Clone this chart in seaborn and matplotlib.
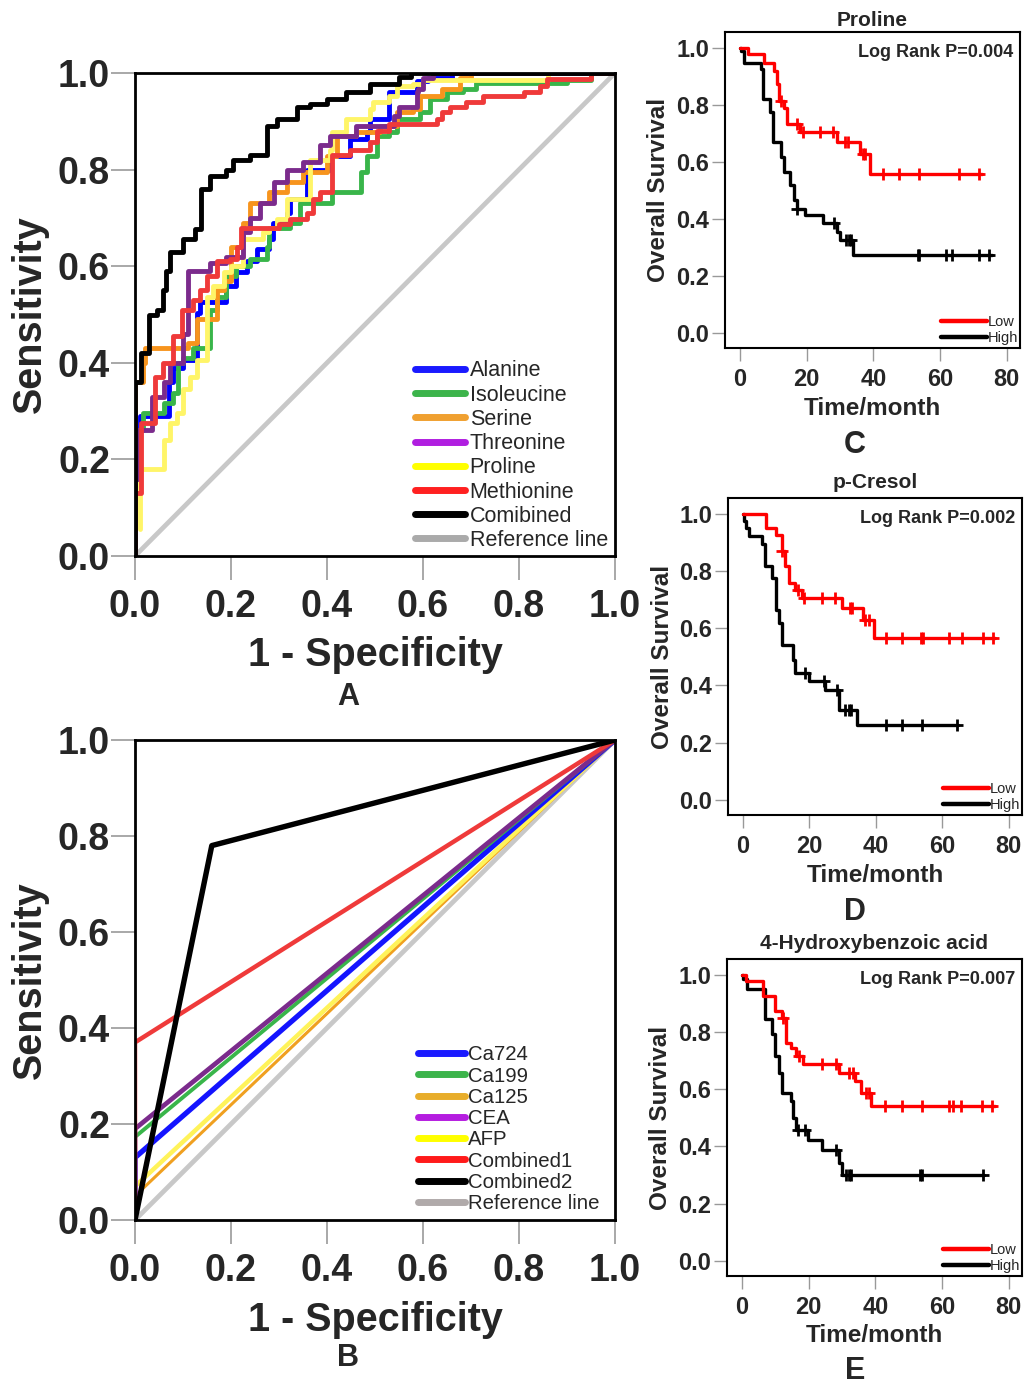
import matplotlib
matplotlib.use("Agg")
import matplotlib.pyplot as plt
from matplotlib.lines import Line2D
import seaborn as sns

# ---------------- Panel A : ROC of single metabolites (step corner points)
alanine_fpr = [0, 0, 0.01, 0.07, 0.08, 0.10, 0.13, 0.135, 0.19, 0.21, 0.233, 0.254, 0.28, 0.288,
               0.316, 0.323, 0.358, 0.406, 0.448, 0.483, 0.49, 0.53, 0.587, 0.61, 0.66, 1]
alanine_tpr = [0, 0.26, 0.29, 0.36, 0.39, 0.405, 0.504, 0.525, 0.56, 0.587, 0.61, 0.635, 0.656, 0.69,
               0.71, 0.74, 0.80, 0.828, 0.863, 0.877, 0.905, 0.96, 0.983, 0.99, 1.0, 1.0]

isoleucine_fpr = [0, 0, 0.017, 0.06, 0.08, 0.09, 0.10, 0.12, 0.156, 0.17, 0.19, 0.21, 0.24, 0.275, 0.28,
                  0.323, 0.344, 0.41, 0.47, 0.483, 0.504, 0.53, 0.545, 0.594, 0.615, 0.65, 0.684, 0.71,
                  0.90, 0.95, 1]
isoleucine_tpr = [0, 0.26, 0.297, 0.317, 0.338, 0.40, 0.41, 0.43, 0.51, 0.537, 0.58, 0.60, 0.614, 0.64, 0.68,
                  0.69, 0.73, 0.753, 0.795, 0.828, 0.87, 0.877, 0.905, 0.92, 0.946, 0.96, 0.967, 0.98,
                  0.985, 1.0, 1.0]

serine_fpr = [0, 0, 0.017, 0.02, 0.11, 0.13, 0.17, 0.185, 0.20, 0.225, 0.24, 0.28, 0.316, 0.35, 0.40,
              0.42, 0.46, 0.51, 0.545, 0.58, 0.594, 0.64, 0.677, 0.70, 1]
serine_tpr = [0, 0.36, 0.40, 0.43, 0.44, 0.49, 0.55, 0.57, 0.64, 0.69, 0.73, 0.753, 0.774, 0.795, 0.828,
              0.87, 0.877, 0.89, 0.92, 0.925, 0.952, 0.967, 0.99, 1.0, 1.0]

threonine_fpr = [0, 0, 0.006, 0.035, 0.06, 0.073, 0.10, 0.11, 0.14, 0.156, 0.19, 0.225, 0.24, 0.26, 0.29,
                 0.316, 0.35, 0.385, 0.406, 0.46, 0.54, 0.55, 0.587, 0.59, 0.60, 0.62, 1]
threonine_tpr = [0, 0.16, 0.26, 0.33, 0.36, 0.40, 0.46, 0.59, 0.59, 0.607, 0.62, 0.67, 0.70, 0.73, 0.774,
                 0.80, 0.815, 0.85, 0.87, 0.89, 0.91, 0.93, 0.96, 0.967, 0.99, 1.0, 1.0]

proline_fpr = [0.01, 0.01, 0.06, 0.073, 0.087, 0.10, 0.115, 0.13, 0.15, 0.163, 0.185, 0.20, 0.225, 0.267,
               0.28, 0.296, 0.316, 0.365, 0.406, 0.41, 0.44, 0.49, 0.496, 0.53, 0.545, 0.58, 0.60, 0.86, 1]
proline_tpr = [0.055, 0.18, 0.24, 0.275, 0.297, 0.345, 0.37, 0.405, 0.537, 0.56, 0.587, 0.60, 0.656, 0.67,
               0.68, 0.697, 0.74, 0.82, 0.84, 0.877, 0.905, 0.925, 0.94, 0.952, 0.973, 0.977, 0.985, 1.0, 1.0]

methionine_fpr = [0, 0, 0.012, 0.042, 0.058, 0.08, 0.098, 0.12, 0.135, 0.15, 0.17, 0.198, 0.212, 0.22,
                  0.30, 0.323, 0.358, 0.37, 0.385, 0.41, 0.448, 0.49, 0.504, 0.53, 0.63, 0.64, 0.656,
                  0.69, 0.726, 0.81, 0.844, 0.858, 0.95, 1]
methionine_tpr = [0, 0.13, 0.276, 0.37, 0.40, 0.455, 0.51, 0.53, 0.55, 0.58, 0.61, 0.614, 0.64, 0.68,
                  0.687, 0.697, 0.71, 0.74, 0.753, 0.83, 0.84, 0.857, 0.88, 0.894, 0.905, 0.92, 0.93,
                  0.94, 0.952, 0.96, 0.973, 0.987, 1.0, 1.0]

combined_fpr = [0, 0, 0.012, 0.03, 0.045, 0.058, 0.065, 0.073, 0.10, 0.125, 0.137, 0.156, 0.19, 0.204,
                0.24, 0.275, 0.296, 0.337, 0.365, 0.40, 0.44, 0.49, 0.55, 0.575, 1]
combined_tpr = [0, 0.36, 0.42, 0.50, 0.51, 0.55, 0.59, 0.63, 0.656, 0.676, 0.76, 0.786, 0.80, 0.82,
                0.83, 0.89, 0.905, 0.93, 0.935, 0.946, 0.96, 0.977, 0.992, 1.0, 1.0]

ref_line = [0, 1]

# ---------------- Panel B : ROC of tumour markers (start value at fpr = 0)
marker_names = ["Ca724", "Ca199", "Ca125", "CEA", "AFP", "Combined1"]
marker_start_tpr = [0.13, 0.173, 0.05, 0.19, 0.07, 0.37]
combined2_fpr = [0, 0.16, 1]
combined2_tpr = [0, 0.78, 1]

# ---------------- Panels C-E : Kaplan-Meier curves (time in months)
proline_low_t = [0, 2.3, 7.2, 10.2, 11.2, 11.7, 13.2, 14, 18.1, 29, 36, 38.9, 72.6]
proline_low_s = [1, 0.977, 0.948, 0.919, 0.872, 0.814, 0.79, 0.733, 0.703, 0.669, 0.628, 0.558, 0.558]
proline_low_cens_t = [12.3, 17, 18.8, 24, 28, 31.5, 32.3, 36.8, 37.6, 42.9, 47.8, 53.8, 65.6, 71.6]
proline_low_cens_s = [0.814, 0.733, 0.703, 0.703, 0.703, 0.669, 0.669, 0.628, 0.628, 0.558, 0.558, 0.558,
                      0.558, 0.558]
proline_high_t = [0, 0.3, 1.3, 6.2, 7, 9, 10, 12.2, 13.2, 15.1, 16.1, 17, 19.6, 24.9, 29, 30, 33.8, 75.5]
proline_high_s = [1, 0.988, 0.948, 0.924, 0.82, 0.773, 0.669, 0.616, 0.564, 0.517, 0.465, 0.436, 0.413,
                  0.384, 0.355, 0.326, 0.273, 0.273]
proline_high_cens_t = [17, 28.2, 31.7, 32.7, 33.2, 53.3, 53.8, 61.7, 63.7, 71.6, 74.6]
proline_high_cens_s = [0.436, 0.384, 0.326, 0.326, 0.326, 0.273, 0.273, 0.273, 0.273, 0.273, 0.273]

cresol_low_t = [0, 6.8, 9.8, 11.8, 12.8, 13.8, 15.8, 17.8, 29.8, 36, 39.3, 76]
cresol_low_s = [1, 0.951, 0.924, 0.869, 0.817, 0.758, 0.735, 0.706, 0.671, 0.63, 0.566, 0.566]
cresol_low_cens_t = [11.8, 16.6, 18.5, 23.8, 27.8, 32.3, 32.8, 36.8, 37.8, 43, 48, 53.6, 54.1, 62, 66,
                     72.3, 75.3]
cresol_low_cens_s = [0.869, 0.735, 0.706, 0.706, 0.706, 0.671, 0.671, 0.63, 0.63, 0.566, 0.566, 0.566,
                     0.566, 0.566, 0.566, 0.566, 0.566]
cresol_high_t = [0, 0.4, 0.8, 1.8, 5.8, 6.6, 8.6, 9.8, 11, 11.8, 15, 15.8, 19.8, 24.8, 28.8, 34.3, 64.8]
cresol_high_s = [1, 0.975, 0.951, 0.922, 0.893, 0.817, 0.776, 0.665, 0.618, 0.54, 0.49, 0.443, 0.414,
                 0.385, 0.315, 0.262, 0.262]
cresol_high_cens_t = [18.8, 24.3, 28.3, 30.8, 31.8, 32.5, 43, 48, 54, 64.3]
cresol_high_cens_s = [0.443, 0.414, 0.385, 0.315, 0.315, 0.315, 0.262, 0.262, 0.262, 0.262]

hba_low_t = [0, 1.2, 6.4, 10, 12, 13.2, 14.7, 16.2, 18.2, 29, 34, 35.7, 38.7, 76]
hba_low_s = [1, 0.979, 0.926, 0.874, 0.85, 0.763, 0.745, 0.716, 0.687, 0.657, 0.628, 0.587, 0.54, 0.54]
hba_low_cens_t = [12.2, 17, 24, 28.2, 32.2, 33.2, 37.2, 38, 43, 48, 54, 62, 63.4, 65.8, 72, 75]
hba_low_cens_s = [0.85, 0.716, 0.687, 0.687, 0.657, 0.657, 0.587, 0.587, 0.54, 0.54, 0.54, 0.54, 0.54,
                  0.54, 0.54, 0.54]
hba_high_t = [0, 0.4, 1.4, 7, 9, 10, 11, 12, 14.7, 15.4, 16.2, 19.7, 24, 29.2, 30, 72.7]
hba_high_s = [1, 0.985, 0.95, 0.844, 0.792, 0.716, 0.657, 0.587, 0.558, 0.5, 0.459, 0.423, 0.388, 0.342,
              0.3, 0.3]
hba_high_cens_t = [16.7, 19, 28.2, 31.2, 32.2, 32.7, 53.5, 54, 72.2]
hba_high_cens_s = [0.459, 0.459, 0.388, 0.3, 0.3, 0.3, 0.3, 0.3, 0.3]

roc_ticks = [0.0, 0.2, 0.4, 0.6, 0.8, 1.0]
km_xticks = [0, 20, 40, 60, 80]
km_yticks = [0.0, 0.2, 0.4, 0.6, 0.8, 1.0]

sns.set_theme(style="white")
plt.rcParams["font.family"] = ["Liberation Sans", "DejaVu Sans"]

W, H = 1026, 1387
fig = plt.figure(figsize=(W / 100, H / 100), dpi=100)


def px_axes(left, top, right, bottom):
    return fig.add_axes([left / W, 1 - bottom / H, (right - left) / W, (bottom - top) / H])


def style_roc(ax):
    ax.set_xlim(0, 1)
    ax.set_ylim(0, 1)
    ax.set_xticks(roc_ticks)
    ax.set_yticks(roc_ticks)
    ax.set_xticklabels([f"{v:.1f}" for v in roc_ticks])
    ax.set_yticklabels([f"{v:.1f}" for v in roc_ticks])
    for s in ax.spines.values():
        s.set_color("black")
        s.set_linewidth(2)
    ax.tick_params(axis="both", direction="out", length=17, width=1.2, color="#999999",
                   labelsize=27, left=True, bottom=True)
    ax.tick_params(axis="y", pad=1)
    ax.tick_params(axis="x", pad=7)
    for lab in ax.get_xticklabels() + ax.get_yticklabels():
        lab.set_fontweight("bold")
    ax.set_xlabel("1 - Specificity", fontsize=28.5, fontweight="bold", va="center")
    ax.set_ylabel("Sensitivity", fontsize=28.5, fontweight="bold", va="center")
    ax.xaxis.set_label_coords(0.5, -0.205)
    ax.yaxis.set_label_coords(-0.219, 0.5)


# ---------------- Panel A
axA = px_axes(135, 73, 615, 556)
sns.lineplot(x=ref_line, y=ref_line, ax=axA, color="#c8c8c8", lw=3.4, sort=False, estimator=None)
curves_a = [
    (alanine_fpr, alanine_tpr, "#0000ff"),
    (isoleucine_fpr, isoleucine_tpr, "#39b54a"),
    (serine_fpr, serine_tpr, "#f7941d"),
    (proline_fpr, proline_tpr, "#fff568"),
    (threonine_fpr, threonine_tpr, "#7b2b8c"),
    (methionine_fpr, methionine_tpr, "#ef3a3a"),
    (combined_fpr, combined_tpr, "#000000"),
]
for fx, fy, c in curves_a:
    sns.lineplot(x=fx, y=fy, ax=axA, color=c, lw=3.5, sort=False, estimator=None,
                 drawstyle="steps-post")
style_roc(axA)
legend_a = [("Alanine", "#1a1aff"), ("Isoleucine", "#3cb44b"), ("Serine", "#f0a030"),
            ("Threonine", "#b01ee0"), ("Proline", "#ffff00"), ("Methionine", "#ff2020"),
            ("Comibined", "#000000"), ("Reference line", "#aaaaaa")]
axA.legend(handles=[Line2D([], [], color=c, lw=5) for _, c in legend_a],
           labels=[n for n, _ in legend_a], loc="upper left", bbox_to_anchor=(0.583, 0.405),
           frameon=False, fontsize=15.5, handlelength=2.35, handletextpad=0.2,
           labelspacing=0.15, borderpad=0, borderaxespad=0)

# ---------------- Panel B
axB = px_axes(135, 740, 615, 1220)
sns.lineplot(x=ref_line, y=ref_line, ax=axB, color="#c8c8c8", lw=3.4, sort=False, estimator=None)
b_colors = {"Ca724": "#1414ff", "Ca199": "#39b54a", "Ca125": "#f0a020", "CEA": "#7b2b8c",
            "AFP": "#fff35a", "Combined1": "#ef3a3a"}
b_widths = {"Ca724": 3.8, "Ca199": 2.8, "Ca125": 2.2, "CEA": 3.4, "AFP": 3.2, "Combined1": 3.2}
for name in ["Ca125", "AFP", "Ca724", "Ca199", "CEA", "Combined1"]:
    y0 = marker_start_tpr[marker_names.index(name)]
    sns.lineplot(x=[0, 0, 1], y=[0, y0, 1], ax=axB, color=b_colors[name], lw=b_widths[name],
                 sort=False, estimator=None)
sns.lineplot(x=combined2_fpr, y=combined2_tpr, ax=axB, color="black", lw=3.9, sort=False,
             estimator=None)
style_roc(axB)
axB.xaxis.set_label_coords(0.5, -0.208)
legend_b = [("Ca724", "#1a1aff"), ("Ca199", "#3cb44b"), ("Ca125", "#e8ad2a"), ("CEA", "#b51de0"),
            ("AFP", "#ffff00"), ("Combined1", "#ff1a1a"), ("Combined2", "#000000"),
            ("Reference line", "#b0aaaa")]
axB.legend(handles=[Line2D([], [], color=c, lw=5) for _, c in legend_b],
           labels=[n for n, _ in legend_b], loc="upper left", bbox_to_anchor=(0.59, 0.364),
           frameon=False, fontsize=14.7, handlelength=2.3, handletextpad=0.15,
           labelspacing=0.11, borderpad=0, borderaxespad=0)

# ---------------- Panels C-E
def km_panel(box, title, pval, low, high, lab_x, lab_y, title_y):
    ax = px_axes(*box)
    for (t, s, ct, cs), c in [(high, "black"), (low, "#ff0000")]:
        sns.lineplot(x=t, y=s, ax=ax, color=c, lw=2.4, sort=False, estimator=None,
                     drawstyle="steps-post")
        sns.scatterplot(x=ct, y=cs, ax=ax, color=c, marker="+", s=65, linewidth=2.0)
    ax.set_xlim(-4.5, 84)
    ax.set_ylim(-0.053, 1.055)
    ax.set_xticks(km_xticks)
    ax.set_yticks(km_yticks)
    ax.set_yticklabels([f"{v:.1f}" for v in km_yticks])
    for s in ax.spines.values():
        s.set_color("black")
        s.set_linewidth(1.5)
    ax.tick_params(axis="both", direction="out", length=9.5, width=1.0, color="#999999",
                   labelsize=17, left=True, bottom=True)
    ax.tick_params(axis="y", pad=2)
    ax.tick_params(axis="x", pad=5)
    for lab in ax.get_xticklabels() + ax.get_yticklabels():
        lab.set_fontweight("bold")
    ax.set_xlabel("Time/month", fontsize=17.5, fontweight="bold", va="center")
    ax.set_ylabel("Overall Survival", fontsize=17.5, fontweight="bold", va="center")
    ax.xaxis.set_label_coords(0.5, lab_x)
    ax.yaxis.set_label_coords(lab_y, 0.5)
    ax.text(0.5, title_y, title, transform=ax.transAxes, ha="center", va="center",
            fontsize=15, fontweight="bold")
    ax.text(0.976, 0.935, f"Log Rank P={pval}", transform=ax.transAxes, ha="right", va="center",
            fontsize=13, fontweight="bold")
    ax.legend(handles=[Line2D([], [], color="#ff0000", lw=3.2), Line2D([], [], color="black", lw=3.2)],
              labels=["Low", "High"], loc="lower right", bbox_to_anchor=(0.995, 0.01),
              frameon=False, fontsize=10.5, handlelength=3.2, handletextpad=0.05,
              labelspacing=0.1, borderpad=0, borderaxespad=0)
    return ax


km_panel((725, 32, 1020, 348), "Proline", "0.004",
         (proline_low_t, proline_low_s, proline_low_cens_t, proline_low_cens_s),
         (proline_high_t, proline_high_s, proline_high_cens_t, proline_high_cens_s), -0.193, -0.227,
         1.035)
km_panel((728, 498, 1022, 815), "p-Cresol", "0.002",
         (cresol_low_t, cresol_low_s, cresol_low_cens_t, cresol_low_cens_s),
         (cresol_high_t, cresol_high_s, cresol_high_cens_t, cresol_high_cens_s), -0.192, -0.224,
         1.048)
km_panel((727, 959, 1022, 1276), "4-Hydroxybenzoic acid", "0.007",
         (hba_low_t, hba_low_s, hba_low_cens_t, hba_low_cens_s),
         (hba_high_t, hba_high_s, hba_high_cens_t, hba_high_cens_s), -0.189, -0.227,
         1.048)

# panel letters
for letter, x, y in [("A", 348, 697), ("B", 348, 1358), ("C", 855, 445), ("D", 855, 912),
                     ("E", 855, 1371)]:
    fig.text(x / W, 1 - y / H, letter, ha="center", va="center", fontsize=22, fontweight="bold")

fig.savefig("out.png", dpi=100, facecolor="white")
